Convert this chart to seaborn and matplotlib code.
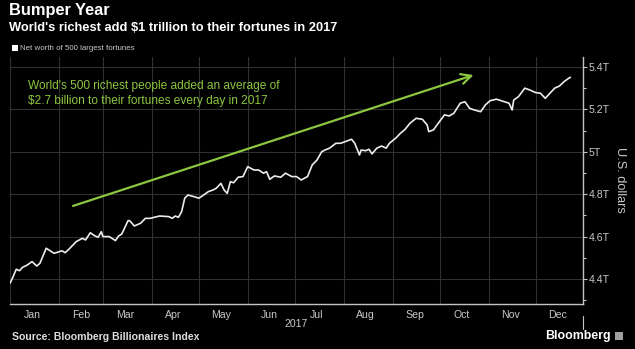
import matplotlib
matplotlib.use("Agg")
import matplotlib.pyplot as plt
import numpy as np
import pandas as pd
import seaborn as sns
from matplotlib import font_manager as fm
from matplotlib.patches import Rectangle
from matplotlib.lines import Line2D

# ---------------- data ----------------
day_offsets = [0, 1, 4, 6, 8, 11, 14, 17, 19, 23, 28, 33, 35, 37, 42, 46, 48, 51, 54, 56,
               58, 59, 63, 67, 69, 71, 75, 76, 79, 83, 86, 89, 95, 101, 103, 105, 107, 109, 111, 113,
               117, 120, 123, 126, 129, 131, 134, 136, 138, 140, 142, 145, 148, 151, 155, 158, 161, 163, 165, 168,
               172, 175, 177, 179, 182, 185, 189, 192, 195, 198, 200, 203, 207, 210, 213, 217, 219, 222, 223, 226,
               228, 230, 233, 236, 239, 241, 245, 248, 251, 254, 258, 262, 265, 266, 269, 272, 276, 279, 282, 286,
               289, 292, 295, 299, 302, 305, 309, 312, 317, 319, 320, 323, 327, 330, 334, 337, 340, 343, 346, 349,
               352, 355, 356]
net_worth_trillions = [4.380, 4.395, 4.446, 4.439, 4.455, 4.466, 4.482, 4.461, 4.474, 4.545,
                       4.521, 4.533, 4.524, 4.537, 4.576, 4.592, 4.584, 4.618, 4.603, 4.597,
                       4.623, 4.600, 4.600, 4.581, 4.603, 4.612, 4.675, 4.675, 4.650, 4.663,
                       4.686, 4.686, 4.697, 4.694, 4.686, 4.697, 4.691, 4.717, 4.781, 4.796,
                       4.788, 4.781, 4.796, 4.812, 4.820, 4.828, 4.851, 4.820, 4.804, 4.859,
                       4.854, 4.880, 4.883, 4.930, 4.914, 4.914, 4.899, 4.906, 4.870, 4.886,
                       4.880, 4.899, 4.891, 4.883, 4.883, 4.867, 4.883, 4.938, 4.961, 5.000,
                       5.008, 5.017, 5.040, 5.040, 5.048, 5.059, 5.040, 4.985, 5.008, 5.005,
                       5.012, 4.990, 5.017, 5.027, 5.017, 5.040, 5.064, 5.087, 5.106, 5.134,
                       5.158, 5.153, 5.126, 5.095, 5.103, 5.134, 5.174, 5.169, 5.182, 5.229,
                       5.236, 5.205, 5.197, 5.189, 5.221, 5.241, 5.248, 5.241, 5.229, 5.197,
                       5.244, 5.260, 5.300, 5.292, 5.279, 5.276, 5.252, 5.276, 5.300, 5.310,
                       5.331, 5.347, 5.351]
assert len(day_offsets) == len(net_worth_trillions)

month_labels = ["Jan", "Feb", "Mar", "Apr", "May", "Jun",
                "Jul", "Aug", "Sep", "Oct", "Nov", "Dec"]
y_ticks = [4.4, 4.6, 4.8, 5.0, 5.2, 5.4]
y_tick_labels = ["4.4T", "4.6T", "4.8T", "5T", "5.2T", "5.4T"]
y_minor_ticks = [4.3, 4.5, 4.7, 4.9, 5.1, 5.3]

title = "Bumper Year"
subtitle = "World's richest add $1 trillion to their fortunes in 2017"
legend_label = "Net worth of 500 largest fortunes"
annotation = ("World's 500 richest people added an average of\n"
              "$2.7 billion to their fortunes every day in 2017")
y_label = "U.S. dollars"
year_label = "2017"
source = "Source: Bloomberg Billionaires Index"
brand = "Bloomberg"

# ---------------- styling ----------------
W, H = 635, 349
BG = "#000000"
LINE = "#ececec"
GRID = "#303030"
AXIS = "#c4c4c4"
TXT = "#c8c8c8"
GREEN = "#8cc63f"

sns.set_theme(style="dark", rc={"axes.facecolor": BG, "figure.facecolor": BG,
                                "savefig.facecolor": BG})
names = {f.name for f in fm.fontManager.ttflist}
NARROW = "Liberation Sans Narrow" in names
if NARROW:
    FAM = ["Liberation Sans Narrow", "DejaVu Sans"]
    k = 1.19
else:
    FAM = ["Liberation Sans", "DejaVu Sans"]
    k = 1.0
plt.rcParams["font.family"] = FAM


def px(x, y):
    return x / W, 1 - y / H


start = pd.Timestamp("2017-01-01")
df = pd.DataFrame({"date": start + pd.to_timedelta(day_offsets, unit="D"),
                   "value": net_worth_trillions})

fig = plt.figure(figsize=(W / 100, H / 100), dpi=100)
ax = fig.add_axes([10 / W, 1 - 304 / H, 573 / W, 247 / H])
ax.set_facecolor(BG)

sns.lineplot(data=df, x="date", y="value", ax=ax, color=LINE, lw=1.2)

ax.set_xlim(start, pd.Timestamp("2017-12-31"))
ax.set_ylim(4.282, 5.447)

month_starts = pd.date_range("2017-01-01", periods=12, freq="MS")
month_mids = month_starts + pd.Timedelta(days=14)
ax.set_xticks(month_starts)
ax.set_xticklabels([])
ax.set_xticks(month_mids, minor=True)
ax.set_xticklabels(month_labels, minor=True)
ax.tick_params(axis="x", which="major", length=3, width=0.8, color=AXIS, direction="out")
ax.tick_params(axis="x", which="minor", length=0, pad=4, labelsize=7.6 * k, labelcolor=TXT)

ax.yaxis.tick_right()
ax.set_yticks(y_ticks)
ax.set_yticklabels(y_tick_labels)
ax.set_yticks(y_minor_ticks, minor=True)
ax.tick_params(axis="y", which="major", length=3, width=0.8, color=AXIS, pad=1,
               labelsize=7.6 * k, labelcolor=TXT, direction="out")
ax.tick_params(axis="y", which="minor", length=2, width=0.8, color=AXIS, direction="out")

ax.grid(False)
ax.grid(True, which="major", axis="both", color=GRID, lw=0.8)
ax.set_xlabel("")
ax.set_ylabel("")

for s in ["top", "left"]:
    ax.spines[s].set_visible(False)
for s in ["right", "bottom"]:
    ax.spines[s].set_visible(True)
    ax.spines[s].set_color(AXIS)
    ax.spines[s].set_linewidth(1.0)

# green annotation text + arrow
ax.text(0.031, 0.905, annotation, transform=ax.transAxes, color=GREEN,
        fontsize=8.6 * k, va="top", ha="left", linespacing=1.25)
ax.annotate("", xy=(0.809, 0.927), xytext=(0.110, 0.397),
            xycoords="axes fraction", textcoords="axes fraction",
            arrowprops=dict(arrowstyle="->,head_length=0.6,head_width=0.3",
                            color=GREEN, lw=1.6, shrinkA=0, shrinkB=0))

# titles
fig.text(*px(9, 11), title, color="white", fontsize=11.8, fontweight="bold",
         va="center", ha="left", family=["Liberation Sans", "DejaVu Sans"])
fig.text(*px(9, 28), subtitle, color="white", fontsize=9.25 * (k if NARROW else 1) ,
         fontweight="bold", va="center", ha="left")
fig.patches.append(Rectangle(px(12, 51), 6 / W, 6 / H, transform=fig.transFigure,
                             facecolor="white", edgecolor="none"))
fig.text(*px(20, 48), legend_label, color=TXT, fontsize=5.7 * k, va="center", ha="left")

# axis label, year, footer
fig.text(*px(620, 180), y_label, color=TXT, fontsize=9.2 * k, rotation=270,
         va="center", ha="center")
fig.text(*px(296, 324), year_label, color=TXT, fontsize=7.6 * k, va="center", ha="center")
fig.text(*px(12, 337), source, color="#dddddd", fontsize=7.6 * k, fontweight="bold",
         va="center", ha="left")
fig.text(*px(611, 336), brand, color="white", fontsize=8.9 * k, fontweight="bold",
         va="center", ha="right")
fig.patches.append(Rectangle(px(615, 340), 8 / W, 8 / H, transform=fig.transFigure,
                             facecolor="#a0a0a0", edgecolor="none"))
fig.lines.append(Line2D([583 / W, 583 / W], [1 - 316 / H, 1 - 329 / H],
                        transform=fig.transFigure, color=AXIS, lw=0.8))

fig.savefig("out.png", dpi=100, facecolor=BG)
